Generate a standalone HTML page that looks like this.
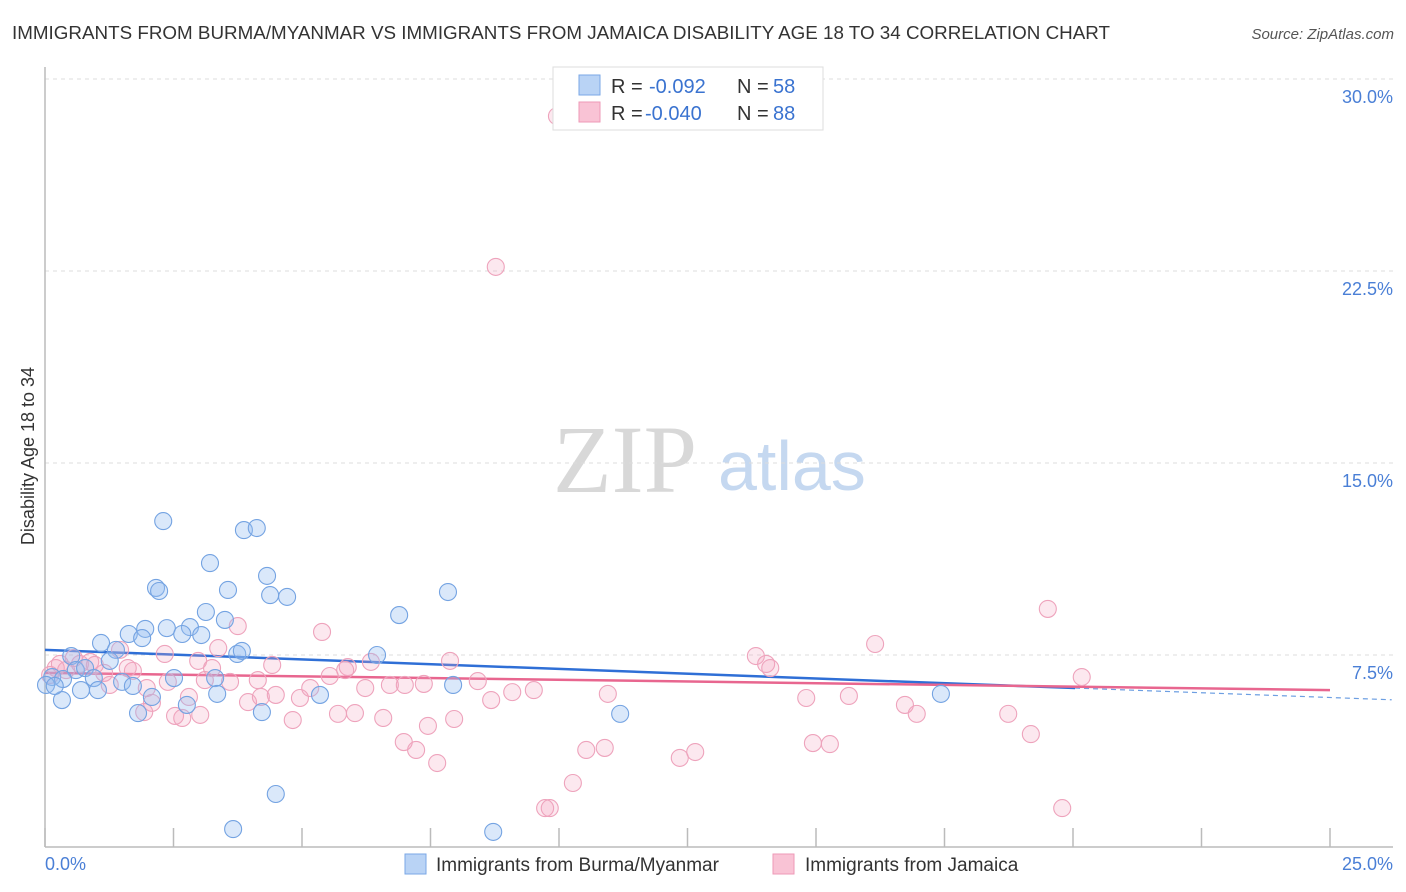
<!DOCTYPE html>
<html><head><meta charset="utf-8"><style>
body{margin:0;background:#fff;font-family:"Liberation Sans",sans-serif;}
svg{display:block}
</style></head><body>
<svg id="chart" width="1406" height="892" xmlns="http://www.w3.org/2000/svg">
<text x="12" y="39" font-size="18" fill="#333" textLength="1098" lengthAdjust="spacingAndGlyphs">IMMIGRANTS FROM BURMA/MYANMAR VS IMMIGRANTS FROM JAMAICA DISABILITY AGE 18 TO 34 CORRELATION CHART</text>
<text x="1394" y="39" font-size="15" fill="#555" font-style="italic" text-anchor="end">Source: ZipAtlas.com</text>
<g>
<text x="553" y="492" font-family="Liberation Serif,serif" font-size="96" fill="#d8d8d8">ZIP</text>
<text x="718" y="490" font-size="70" fill="#c5d8f0">atlas</text>
</g>
<g id="grid"></g>
<g id="axes"></g>
<g id="lines"></g>
<g id="pts"></g>
<text transform="translate(34,456) rotate(-90)" font-size="18" fill="#333" text-anchor="middle">Disability Age 18 to 34</text>
<text x="45" y="870" font-size="18" fill="#4a7fd6">0.0%</text>
<text x="1393" y="870" font-size="18" fill="#4a7fd6" text-anchor="end">25.0%</text>
<g>
<rect x="553" y="67" width="270" height="63" fill="#fff" stroke="#ddd"/>
<rect x="579" y="75" width="21" height="20" fill="#b9d3f5" stroke="#7aa7e6"/>
<rect x="579" y="102" width="21" height="20" fill="#f9c3d5" stroke="#ee9ab7"/>
<text x="611" y="93" font-size="20" fill="#333">R =</text>
<text x="649" y="93" font-size="20" fill="#3a73d0">-0.092</text>
<text x="737" y="93" font-size="20" fill="#333">N =</text>
<text x="773" y="93" font-size="20" fill="#3a73d0">58</text>
<text x="611" y="120" font-size="20" fill="#333">R =</text>
<text x="645" y="120" font-size="20" fill="#3a73d0">-0.040</text>
<text x="737" y="120" font-size="20" fill="#333">N =</text>
<text x="773" y="120" font-size="20" fill="#3a73d0">88</text>
</g>
<g>
<rect x="405" y="854" width="21" height="20" fill="#b9d3f5" stroke="#7aa7e6"/>
<text x="436" y="871" font-size="19" fill="#333">Immigrants from Burma/Myanmar</text>
<rect x="773" y="854" width="21" height="20" fill="#f9c3d5" stroke="#ee9ab7"/>
<text x="805" y="871" font-size="19" fill="#333">Immigrants from Jamaica</text>
</g>
</svg>
<script>
const yTicks=[7.5,15,22.5,30];
const yTickLabels=["7.5%","15.0%","22.5%","30.0%"];
const xTicks=[0,2.5,5,7.5,10,12.5,15,17.5,20,22.5,25];
const burmaX=[2.30,3.87,4.12,3.21,2.16,2.22,4.32,3.56,4.38,4.71,7.84,6.89,3.13,3.50,2.82,1.95,2.37,2.67,3.04,1.63,1.09,1.89,1.38,3.74,3.83,6.46,0.51,1.26,0.60,0.78,0.14,0.35,0.02,0.95,1.50,2.51,3.31,0.33,0.70,1.03,1.71,2.76,1.81,2.08,3.35,4.22,5.35,7.94,11.19,17.43,4.49,3.66,8.72,0.19];
const burmaY=[12.73,12.38,12.46,11.09,10.12,10.0,10.59,10.04,9.84,9.77,9.96,9.06,9.18,8.87,8.59,8.52,8.55,8.32,8.28,8.32,7.97,8.16,7.70,7.54,7.66,7.50,7.46,7.27,6.91,6.99,6.64,6.56,6.33,6.60,6.45,6.60,6.60,5.74,6.13,6.13,6.29,5.55,5.23,5.86,5.98,5.27,5.94,6.33,5.20,5.98,2.07,0.70,0.59,6.29];
const jamX=[9.96,8.77,19.51,16.15,3.75,5.39,13.83,14.03,14.11,20.17,7.88,6.34,5.89,4.42,3.37,2.98,3.25,1.71,0.88,0.68,0.21,0.41,1.46,1.15,1.26,2.33,2.39,1.98,2.08,1.93,2.67,2.53,2.80,3.11,3.60,3.95,4.20,4.49,4.96,5.16,5.54,5.84,6.23,6.71,7.00,7.37,8.42,8.68,9.09,9.51,10.95,14.81,15.64,16.73,16.96,18.74,5.70,6.03,6.58,4.82,6.98,7.22,7.45,7.96,7.63,10.53,10.89,10.27,12.35,12.65,14.94,15.27,19.18,9.73,9.82,19.79,0.56,0.29,0.10,0.97,1.61,3.02,4.14];
const jamY=[28.55,22.66,9.30,7.93,8.63,8.40,7.46,7.15,6.99,6.64,7.27,7.23,7.03,7.11,7.77,7.27,6.99,6.88,7.23,7.15,6.99,6.91,7.70,6.80,6.33,7.54,6.45,6.21,5.63,5.27,5.04,5.12,5.86,6.52,6.45,5.66,5.86,5.94,5.82,6.21,6.68,6.91,6.21,6.33,6.33,6.37,6.48,5.74,6.05,6.13,5.98,5.82,5.90,5.55,5.20,5.20,5.20,5.23,5.04,4.96,4.10,3.79,4.73,5.00,3.28,3.79,3.87,2.50,3.48,3.71,4.06,4.02,4.41,1.52,1.52,1.52,7.38,7.15,6.72,7.11,6.99,5.16,6.52];
const burmaTrend=[7.70,-0.0744];
const jamTrend=[6.80,-0.0268];
const NS="http://www.w3.org/2000/svg";
const X=v=>45+v*51.4, Y=v=>847-v*25.6;
function mk(parent,tag,attrs){const e=document.createElementNS(NS,tag);for(const k in attrs)e.setAttribute(k,attrs[k]);document.getElementById(parent).appendChild(e);return e;}
yTicks.forEach((t,i)=>{
 const g=mk('grid','line',{x1:45,x2:1393,y1:Y(t),y2:Y(t),stroke:'#ddd','stroke-dasharray':'4,4'});
 
 
 const l=mk('grid','text',{x:1393,y:Y(t)+24,'font-size':18,fill:'#4a7fd6','text-anchor':'end'});
 l.textContent=yTickLabels[i];
 
 
});
const topLine=mk('grid','line',{x1:45,x2:1393,y1:79,y2:79,stroke:'#ddd','stroke-dasharray':'4,4'});


const ya=mk('axes','line',{x1:45,x2:45,y1:67,y2:847,stroke:'#bbb','stroke-width':1.5});


const xa=mk('axes','line',{x1:45,x2:1393,y1:847,y2:847,stroke:'#bbb','stroke-width':1.5});


xTicks.forEach(t=>{
 const k=mk('axes','line',{x1:X(t),x2:X(t),y1:828,y2:847,stroke:'#bbb','stroke-width':1.5});
 
 
});
jamX.forEach((x,i)=>{
 const c=mk('pts','circle',{cx:X(x),cy:Y(jamY[i]),r:8.5,fill:'rgba(245,165,190,0.25)',stroke:'#eea3bc','stroke-width':1.1});
 
 
});
burmaX.forEach((x,i)=>{
 const c=mk('pts','circle',{cx:X(x),cy:Y(burmaY[i]),r:8.5,fill:'rgba(150,190,240,0.35)',stroke:'#74a3e2','stroke-width':1.1});
 
 
});
const bEnd=20.04;
const bl=mk('lines','line',{x1:X(0),y1:Y(burmaTrend[0]),x2:X(bEnd),y2:Y(burmaTrend[0]+burmaTrend[1]*bEnd),stroke:'#2f6fd6','stroke-width':2.5});


const bd=mk('lines','line',{x1:X(bEnd),y1:Y(burmaTrend[0]+burmaTrend[1]*bEnd),x2:X(26.2),y2:Y(burmaTrend[0]+burmaTrend[1]*26.2),stroke:'#6d9fe2','stroke-width':1.2,'stroke-dasharray':'5,4'});


const jl=mk('lines','line',{x1:X(0),y1:Y(jamTrend[0]),x2:X(25),y2:Y(jamTrend[0]+jamTrend[1]*25),stroke:'#e8668f','stroke-width':2.5});


</script>
</body></html>
